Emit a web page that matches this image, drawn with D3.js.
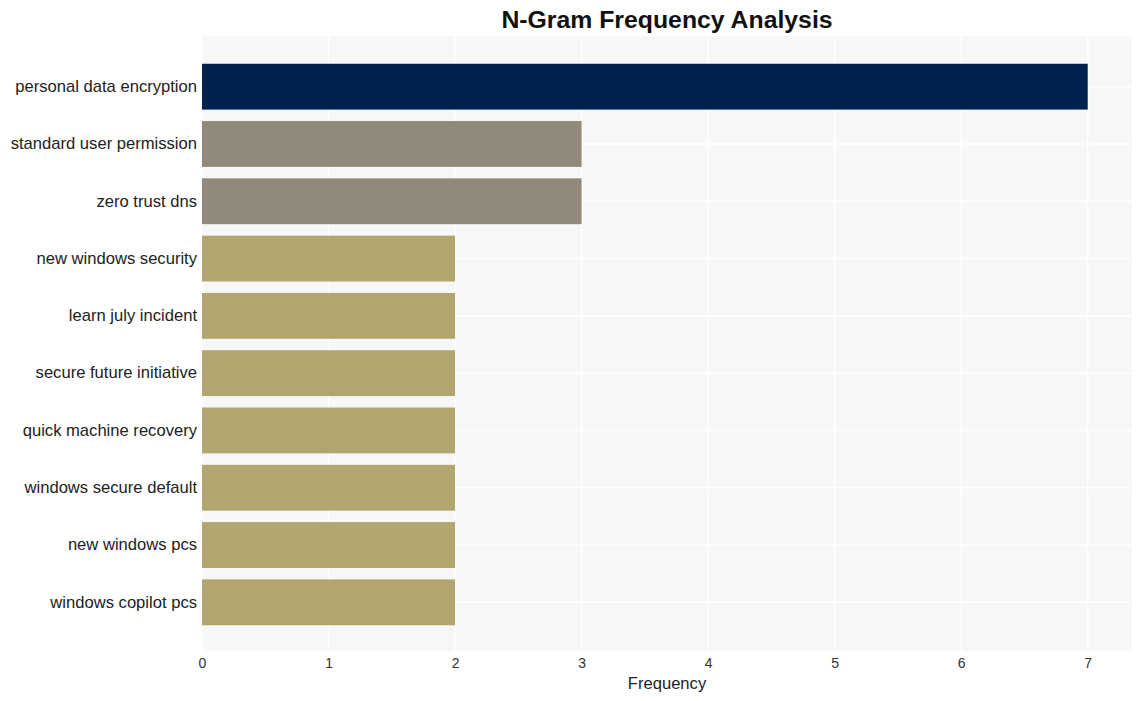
<!DOCTYPE html>
<html><head><meta charset="utf-8">
<script src="https://cdn.jsdelivr.net/npm/d3@7"></script>
<style>body{margin:0;background:#fff;font-family:"Liberation Sans",Arial,sans-serif;}</style>
</head><body><svg id="c" width="1142" height="701"></svg>
<script>
const categories = ["personal data encryption","standard user permission","zero trust dns","new windows security","learn july incident","secure future initiative","quick machine recovery","windows secure default","new windows pcs","windows copilot pcs"];
const values = [7,3,3,2,2,2,2,2,2,2];
const colors = ["#00224e","#918a7a","#918a7a","#b1a66f","#b1a66f","#b1a66f","#b1a66f","#b1a66f","#b1a66f","#b1a66f"];
const xTicks = [0,1,2,3,4,5,6,7];

const svg = d3.select("#c");
const L=202, R=1132, T=37, B=652;
const x = d3.scaleLinear().domain([0, 7*1.05]).range([L,R]);
const y = d3.scaleBand().domain(categories).range([T,B]).paddingInner(0.2).paddingOuter(0.467);

svg.append("rect").attr("x",L).attr("y",T-1).attr("width",R-L).attr("height",B-T).attr("fill","#f7f7f7");
svg.append("g").selectAll("line").data(xTicks).join("line")
  .attr("x1",d=>x(d)).attr("x2",d=>x(d)).attr("y1",T-1).attr("y2",B-1)
  .attr("stroke","#ffffff").attr("stroke-width",1.5);
svg.append("g").selectAll("line").data(categories).join("line")
  .attr("x1",L).attr("x2",R).attr("y1",d=>y(d)+y.bandwidth()/2).attr("y2",d=>y(d)+y.bandwidth()/2)
  .attr("stroke","#ffffff").attr("stroke-width",1.5);

svg.append("g").selectAll("rect").data(categories).join("rect")
  .attr("x",x(0)).attr("y",d=>y(d)).attr("height",y.bandwidth())
  .attr("width",(d,i)=>x(values[i])-x(0)).attr("fill",(d,i)=>colors[i]);

const xa = svg.append("g").attr("transform",`translate(0,${B-1})`)
  .call(d3.axisBottom(x).tickValues(xTicks).tickSize(0).tickPadding(7).tickFormat(d3.format("d")));
xa.select(".domain").remove();
xa.selectAll("text").attr("font-size",14).attr("fill","#333").attr("font-family","Liberation Sans, Arial, sans-serif");

const ya = svg.append("g").attr("transform",`translate(${L},0)`)
  .call(d3.axisLeft(y).tickSize(0).tickPadding(5));
ya.select(".domain").remove();
ya.selectAll("text").attr("font-size",16.6).attr("fill","#222").attr("font-family","Liberation Sans, Arial, sans-serif");

svg.append("text").attr("x",(L+R)/2).attr("y",689).attr("text-anchor","middle")
  .attr("font-size",16.6).attr("fill","#222").text("Frequency");
svg.append("text").attr("x",(L+R)/2).attr("y",28).attr("text-anchor","middle")
  .attr("font-size",24.8).attr("font-weight","bold").attr("fill","#111").text("N-Gram Frequency Analysis");
</script></body></html>
